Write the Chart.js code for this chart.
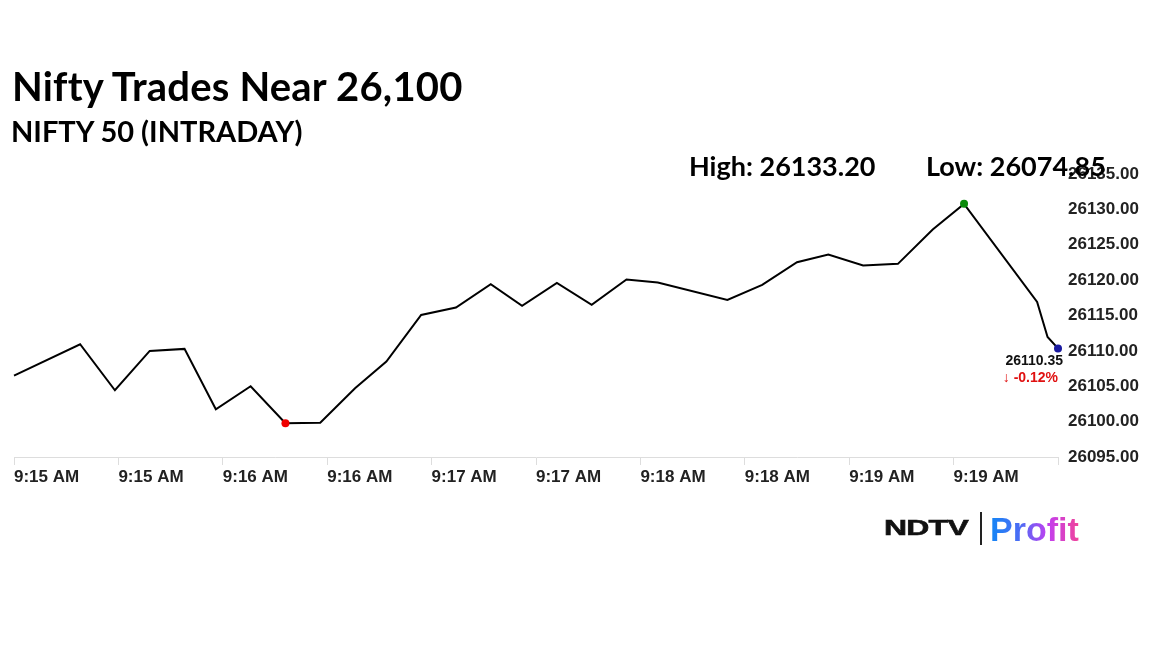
<!DOCTYPE html>
<html>
<head>
<meta charset="utf-8">
<script src="https://cdn.jsdelivr.net/npm/chart.js@4.4.1/dist/chart.umd.min.js"></script>
<style>
  body { margin: 0; background: #fff; width: 1152px; height: 648px; overflow: hidden; position: relative; }
  #chart { position: absolute; left: 0; top: 0; }
  .txt { position: absolute; white-space: nowrap; line-height: 1; color: #000; font-weight: 700; font-family: Lato, sans-serif; }
  #title { left: 12px; top: 66px; font-size: 40px; letter-spacing: 0.2px; }
  #sub { left: 11px; top: 116px; font-size: 29px; }
  #high { left: 689px; top: 152px; font-size: 27px; }
  #low { left: 926px; top: 152px; font-size: 27px; }
  #ndtv { position: absolute; left: 884px; top: 517px; font: 900 22px "Liberation Sans", Arial, sans-serif; line-height: 1;
          color: #111; transform: scaleX(1.45); transform-origin: left top; letter-spacing: -0.5px;
          -webkit-text-stroke: 0.6px #111; }
  #bar { position: absolute; left: 980px; top: 512px; width: 2px; height: 33px; background: #222; }
  #profit { position: absolute; left: 990px; top: 512px; font: 700 34px "Liberation Sans", Arial, sans-serif; line-height: 1;
            background: linear-gradient(90deg, #1386f5 0%, #4f6bf5 35%, #c23ff0 65%, #f0449a 100%);
            -webkit-background-clip: text; background-clip: text; color: transparent; }
</style>
</head>
<body>
<canvas id="chart" width="1152" height="648"></canvas>
<div class="txt" id="title">Nifty Trades Near 26,100</div>
<div class="txt" id="sub">NIFTY 50 (INTRADAY)</div>
<div class="txt" id="high">High: 26133.20</div>
<div class="txt" id="low">Low: 26074.85</div>
<div id="ndtv">NDTV</div>
<div id="bar"></div>
<div id="profit">Profit</div>
<script>
// intraday ticks, 9:15 to 9:20
var times = ['09:15:00', '09:15:19', '09:15:29', '09:15:39', '09:15:49', '09:15:58',
             '09:16:08', '09:16:18', '09:16:28', '09:16:38', '09:16:47', '09:16:57',
             '09:17:07', '09:17:17', '09:17:26', '09:17:36', '09:17:46', '09:17:56',
             '09:18:05', '09:18:25', '09:18:35', '09:18:45', '09:18:54', '09:19:04',
             '09:19:14', '09:19:24', '09:19:33', '09:19:54', '09:19:57', '09:20:00'];
var prices = [26106.50, 26110.94, 26104.43, 26109.99, 26110.28, 26101.75,
              26105.00, 26099.77, 26099.85, 26104.72, 26108.48, 26115.08,
              26116.12, 26119.43, 26116.36, 26119.61, 26116.50, 26120.08,
              26119.65, 26117.20, 26119.33, 26122.54, 26123.61, 26122.06,
              26122.30, 26127.15, 26130.78, 26116.92, 26111.97, 26110.35];
var yTicks = [26095, 26135, 5];   // min, max, step
var changePct = '-0.12';

var startSec = 9 * 3600 + 15 * 60;
function toSec(t) {
    var p = t.split(':');
    return (+p[0]) * 3600 + (+p[1]) * 60 + (+p[2]) - startSec;
}
function fmtTime(s) {
    var total = startSec + s;
    var h = Math.floor(total / 3600);
    var m = Math.floor((total % 3600) / 60);
    return h + ':' + (m < 10 ? '0' : '') + m + ' AM';
}

var last = prices.length - 1;
var lowIdx = prices.indexOf(Math.min.apply(null, prices));
var highIdx = prices.indexOf(Math.max.apply(null, prices));
var ptColors = prices.map(function (v, i) {
    if (i === lowIdx) return '#f00000';
    if (i === highIdx) return '#0a8a0a';
    if (i === last) return '#1a1aa0';
    return '#000';
});
var ptRadius = prices.map(function (v, i) {
    return (i === lowIdx || i === highIdx || i === last) ? 4 : 0;
});

var tickFont = { family: '"Liberation Sans", Arial, sans-serif', size: 17, weight: 'bold' };

// price + change under the last point
var lastLabel = {
    id: 'lastLabel',
    afterDatasetsDraw: function (chart) {
        var meta = chart.getDatasetMeta(0);
        var pt = meta.data[last];
        var c = chart.ctx;
        c.save();
        c.textAlign = 'right';
        c.textBaseline = 'middle';
        c.font = 'bold 14px "Liberation Sans", Arial, sans-serif';
        c.fillStyle = '#111';
        c.fillText(prices[last].toFixed(2), pt.x + 5, pt.y + 13);
        c.fillStyle = '#e01010';
        c.fillText('\u2193 ' + changePct + '%', pt.x, pt.y + 30);
        c.restore();
    }
};

var ctx = document.getElementById('chart');
var nifty = new Chart(ctx, {
    type: 'line',
    data: {
        datasets: [{
            data: times.map(function (t, i) { return { x: toSec(t), y: prices[i] }; }),
            borderColor: '#000',
            borderWidth: 2,
            tension: 0,
            clip: false,
            pointRadius: ptRadius,
            pointBackgroundColor: ptColors,
            pointBorderWidth: 0
        }]
    },
    plugins: [lastLabel],
    options: {
        responsive: false,
        animation: false,
        layout: { padding: { left: 14, top: 174, right: 0, bottom: 0 } },
        plugins: {
            legend: { display: false },
            tooltip: { enabled: false }
        },
        scales: {
            x: {
                type: 'linear',
                min: 0,
                max: toSec(times[last]),
                afterFit: function (s) { s.height = 648 - 457; },
                grid: { drawOnChartArea: false, color: '#dddddd', tickLength: 8 },
                border: { color: '#dddddd' },
                ticks: {
                    stepSize: 30,
                    align: 'start',
                    autoSkip: false,
                    maxRotation: 0,
                    padding: 2,
                    color: '#222',
                    font: tickFont,
                    callback: function (v) { return v >= 300 ? '' : fmtTime(v); }
                }
            },
            y: {
                position: 'right',
                min: yTicks[0],
                max: yTicks[1],
                afterFit: function (s) { s.width = 1152 - 1058; },
                grid: { display: false, drawTicks: false },
                border: { display: false },
                ticks: {
                    stepSize: yTicks[2],
                    padding: 10,
                    color: '#222',
                    font: tickFont,
                    callback: function (v) { return v.toFixed(2); }
                }
            }
        }
    }
});
</script>
</body>
</html>
